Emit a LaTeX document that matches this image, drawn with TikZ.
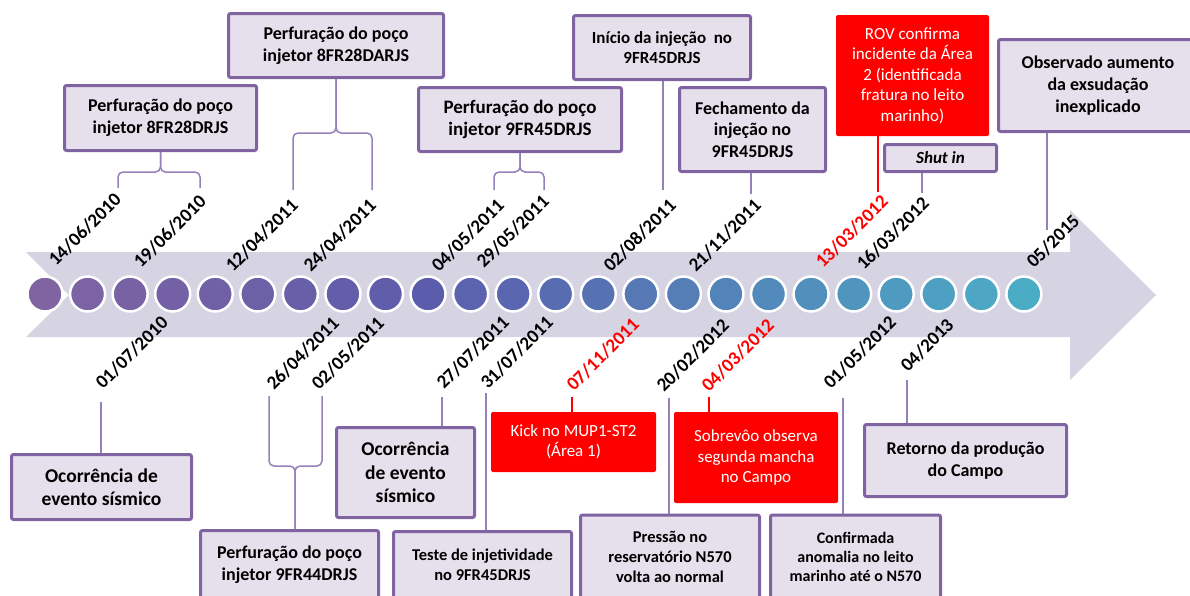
\documentclass[tikz,border=0pt]{standalone}
\usepackage{fontspec}
\setmainfont{Carlito}
\definecolor{evline}{RGB}{128,100,162}
\definecolor{evfill}{RGB}{229,224,236}
\definecolor{evlink}{RGB}{150,128,186}
\definecolor{band}{RGB}{214,211,227}
\definecolor{dotA}{RGB}{128,100,162}
\definecolor{dotB}{RGB}{92,92,172}
\definecolor{dotC}{RGB}{75,172,198}
\definecolor{alarm}{RGB}{255,0,0}
\newcommand{\evfont}[1]{\pgfmathsetmacro\evskip{1.2*#1}\fontsize{#1}{\evskip}\selectfont}
\tikzset{
  evbox/.style={draw=evline, fill=evfill, line width=3pt, rounded corners=2pt,
    align=center, inner sep=2pt, text=black},
  redbox/.style={fill=alarm, rounded corners=2pt, align=center, text=white, inner sep=2pt},
  link/.style={evlink, line width=1.5pt},
  redlink/.style={alarm, line width=1.5pt},
  date/.style={rotate=45, anchor=base west, inner sep=0pt, font=\evfont{19}\bfseries},
  dot/.style={circle, draw=white, line width=2.5pt, minimum size=35pt, inner sep=0pt},
}

\begin{document}
\begin{tikzpicture}[x=1pt, y=-1pt]
  \useasboundingbox (0,0) rectangle (1190,595);
  \clip (0,0) rectangle (1190,595);
  % ================================================================
  % time arrow with dots
  % ================================================================
  \fill[band] (26,252) -- (1070,252) -- (1070,210) -- (1156,295) -- (1070,380)
    -- (1070,337) -- (26,337) -- (69,295) -- cycle;
  \foreach \i in {0,...,23} {
    \ifnum\i<9
      \pgfmathtruncatemacro\pct{100*\i/9}
      \colorlet{dotcol}{dotB!\pct!dotA}
    \else
      \pgfmathtruncatemacro\pct{100*(\i-9)/14}
      \colorlet{dotcol}{dotC!\pct!dotB}
    \fi
    \node[dot, fill=dotcol] (c\i) at ({45+42.56*\i},294) {};
  }
  % dates above ----------------------------------------------------
  \node[date] (d1) at (56,267) {14/06/2010};
  \node[date] (d2) at (141,269) {19/06/2010};
  \node[date] (d3) at (233,273) {12/04/2011};
  \node[date] (d4) at (311,273) {24/04/2011};
  \node[date] (d5) at (439,273) {04/05/2011};
  \node[date] (d6) at (484,269) {29/05/2011};
  \node[date] (d7) at (611,273) {02/08/2011};
  \node[date] (d8) at (696,273) {21/11/2011};
  \node[date, text=alarm] (d9) at (823,269) {13/03/2012};
  \node[date] (d10) at (864,271) {16/03/2012};
  \node[date] (d11) at (1034,269) {05/2015};
  % dates below ----------------------------------------------------
  \node[date] (e1) at (103,390) {01/07/2010};
  \node[date] (e2) at (274,391) {26/04/2011};
  \node[date] (e3) at (319,391) {02/05/2011};
  \node[date] (e4) at (444,390) {27/07/2011};
  \node[date] (e5) at (488,390) {31/07/2011};
  \node[date, text=alarm] (e6) at (574,392) {07/11/2011};
  \node[date] (e7) at (664,393) {20/02/2012};
  \node[date, text=alarm] (e8) at (709,393) {04/03/2012};
  \node[date] (e9) at (831,390) {01/05/2012};
  \node[date] (e10) at (908,373) {04/2013};
  % ================================================================
  % events above the arrow
  % ================================================================
  \node[evbox, minimum width=192, minimum height=65, font=\evfont{18}\bfseries]
    (b1) at (160.5,118) {Perfuração do poço\\injetor 8FR28DRJS};
  \node[evbox, minimum width=215, minimum height=64, font=\evfont{18}\bfseries]
    (b2) at (336,45.5) {Perfuração do poço\\injetor 8FR28DARJS};
  \node[evbox, minimum width=203, minimum height=64, font=\evfont{19}\bfseries]
    (b3) at (520,119.5) {Perfuração do poço\\injetor 9FR45DRJS};
  \node[evbox, minimum width=177, minimum height=64, font=\evfont{17}\bfseries]
    (b4) at (662,47.5) {Início da injeção\ \ no\\9FR45DRJS};
  \node[evbox, minimum width=146, minimum height=84, font=\evfont{18}\bfseries]
    (b5) at (752.5,129.5) {Fechamento da\\injeção no\\9FR45DRJS};
  \node[redbox, minimum width=153, minimum height=121, font=\evfont{17}]
    (b6) at (912.5,75.5) {ROV confirma\\incidente da Área\\2 (identificada\\fratura no leito\\marinho)};
  \node[evbox, minimum width=112, minimum height=27, font=\evfont{17}\bfseries\itshape]
    (b7) at (940.5,158) {Shut in};
  \node[evbox, minimum width=199, minimum height=92, font=\evfont{18}\bfseries]
    (b8) at (1098,85.5) {Observado aumento\\da exsudação\\inexplicado};
  % connectors above -----------------------------------------------
  \coordinate (t1a) at (118,188); \coordinate (t1b) at (200,188); \coordinate (j1) at (160.5,172);
  \coordinate (t2a) at (293,190); \coordinate (t2b) at (372,190); \coordinate (j2) at (336,133);
  \coordinate (t3a) at (494,190); \coordinate (t3b) at (544,190); \coordinate (j3) at (520,172);
  \draw[link, rounded corners=5pt] (t1a) |- (j1) -- (b1.south);
  \draw[link, rounded corners=5pt] (t1b) |- (j1) -- (b1.south);
  \draw[link, rounded corners=5pt] (t2a) |- (j2) -- (b2.south);
  \draw[link, rounded corners=5pt] (t2b) |- (j2) -- (b2.south);
  \draw[link, rounded corners=5pt] (t3a) |- (j3) -- (b3.south);
  \draw[link, rounded corners=5pt] (t3b) |- (j3) -- (b3.south);
  \coordinate (t4) at (663,190);
  \coordinate (t5) at (751,194);
  \coordinate (t6) at (878,192);
  \coordinate (t7) at (922,193);
  \coordinate (t8) at (1047,230);
  \draw[link] (b4.south -| t4) -- (t4);
  \draw[link] (b5.south -| t5) -- (t5);
  \draw[redlink] (b6.south -| t6) -- (t6);
  \draw[link] (b7.south -| t7) -- (t7);
  \draw[link] (b8.south -| t8) -- (t8);
  % ================================================================
  % events below the arrow
  % ================================================================
  \node[evbox, minimum width=180, minimum height=65, font=\evfont{19.5}\bfseries]
    (l1) at (101.5,487) {Ocorrência de\\evento sísmico};
  \node[evbox, minimum width=178, minimum height=68, font=\evfont{18}\bfseries]
    (l2) at (289.5,564.5) {Perfuração do poço\\injetor 9FR44DRJS};
  \node[evbox, minimum width=138, minimum height=90, font=\evfont{19.5}\bfseries]
    (l3) at (405.5,472.5) {Ocorrência\\de evento\\sísmico};
  \node[evbox, minimum width=178, minimum height=67, font=\evfont{16.5}\bfseries]
    (l4) at (482.5,565) {Teste de injetividade\\no 9FR45DRJS};
  \node[redbox, minimum width=165, minimum height=60, font=\evfont{17}]
    (l5) at (573.5,442) {Kick no MUP1-ST2\\(Área 1)};
  \node[redbox, minimum width=164, minimum height=91, font=\evfont{17}]
    (l6) at (756,457.5) {Sobrevôo observa\\segunda mancha\\no Campo};
  \node[evbox, minimum width=179, minimum height=84, font=\evfont{16.5}\bfseries]
    (l7) at (670,557) {Pressão no\\reservatório N570\\volta ao normal};
  \node[evbox, minimum width=170, minimum height=84, font=\evfont{16}\bfseries]
    (l8) at (855.5,557) {Confirmada\\anomalia no leito\\marinho até o N570};
  \node[evbox, minimum width=202, minimum height=72, font=\evfont{18}\bfseries]
    (l9) at (965.5,460.5) {Retorno da produção\\do Campo};
  % connectors below -----------------------------------------------
  \coordinate (u1) at (101,402);
  \coordinate (u2a) at (269,396); \coordinate (u2b) at (322,396); \coordinate (k2) at (295,466);
  \coordinate (u4) at (442,397);
  \coordinate (u5) at (486,393);
  \coordinate (u6) at (572,397);
  \coordinate (u7) at (669,398);
  \coordinate (u8) at (709,397);
  \coordinate (u9) at (843,398);
  \coordinate (u10) at (907,380);
  \draw[link] (u1) -- (l1.north -| u1);
  \draw[link, rounded corners=5pt] (u2a) |- (k2) -- (l2.north -| k2);
  \draw[link, rounded corners=5pt] (u2b) |- (k2) -- (l2.north -| k2);
  \draw[link] (u4) -- (l3.north -| u4);
  \draw[link] (u5) -- (l4.north -| u5);
  \draw[redlink] (u6) -- (l5.north -| u6);
  \draw[link] (u7) -- (l7.north -| u7);
  \draw[redlink] (u8) -- (l6.north -| u8);
  \draw[link] (u9) -- (l8.north -| u9);
  \draw[link] (u10) -- (l9.north -| u10);
\end{tikzpicture}
\end{document}
